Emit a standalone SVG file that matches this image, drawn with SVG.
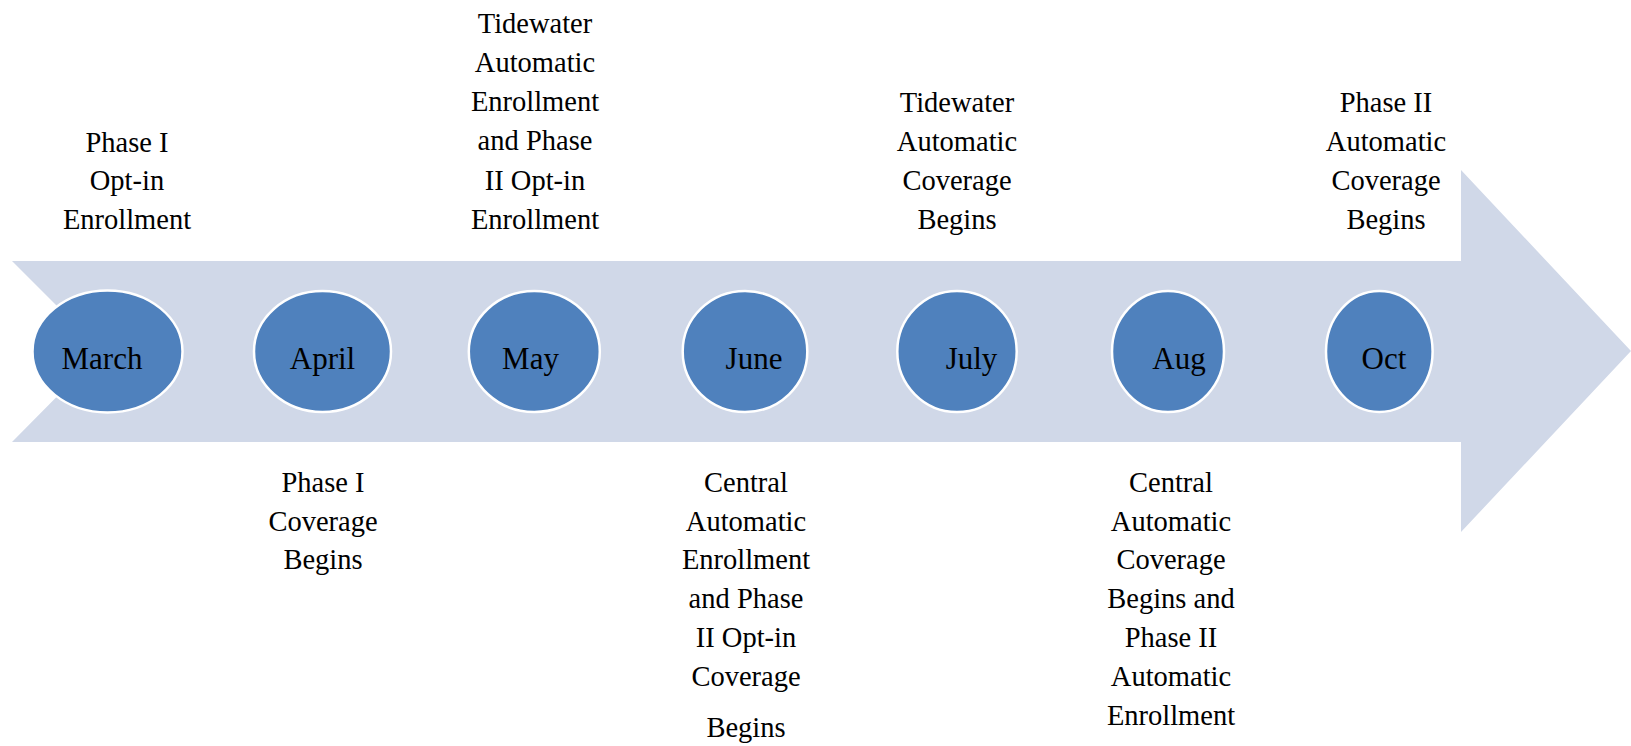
<svg xmlns="http://www.w3.org/2000/svg" width="1631" height="746" viewBox="0 0 1631 746">
<style>
.arrow{fill:#D0D8E8}
.node ellipse{fill:#4F81BD;stroke:#FFFFFF;stroke-width:2.5}
.m{font-family:"Liberation Serif","Times New Roman",serif;font-size:31px;fill:#000;text-anchor:middle}
.lbl{font-family:"Liberation Serif","Times New Roman",serif;font-size:28.5px;fill:#000;text-anchor:middle}
</style>
<rect width="1631" height="746" fill="#FFFFFF"/>
<g id="connectors">
<polygon class="arrow" points="12,261 1461,261 1461,170 1631,351 1461,532 1461,442 12,442 102,351"/>
</g>
<g id="march" class="node"><ellipse cx="107.5" cy="351.5" rx="75" ry="61"/><text class="m" x="102" y="369">March</text></g>
<g id="april" class="node"><ellipse cx="322.5" cy="351.5" rx="68.5" ry="60.5"/><text class="m" x="322.5" y="369">April</text></g>
<g id="may" class="node"><ellipse cx="534.3" cy="351.5" rx="65.5" ry="60.5"/><text class="m" x="530.5" y="369">May</text></g>
<g id="june" class="node"><ellipse cx="745" cy="351.5" rx="62.3" ry="60.5"/><text class="m" x="754" y="369">June</text></g>
<g id="july" class="node"><ellipse cx="957" cy="351.5" rx="59.7" ry="60.5"/><text class="m" x="971.5" y="369">July</text></g>
<g id="aug" class="node"><ellipse cx="1168" cy="351.5" rx="56" ry="60.5"/><text class="m" x="1179" y="369">Aug</text></g>
<g id="oct" class="node"><ellipse cx="1379.3" cy="351.5" rx="53.3" ry="60.5"/><text class="m" x="1384" y="369">Oct</text></g>
<g id="label-march">
<text class="lbl" x="127" y="152">Phase I</text>
<text class="lbl" x="127" y="190">Opt-in</text>
<text class="lbl" x="127" y="229">Enrollment</text>
</g>
<g id="label-may">
<text class="lbl" x="535" y="33">Tidewater</text>
<text class="lbl" x="535" y="72">Automatic</text>
<text class="lbl" x="535" y="111">Enrollment</text>
<text class="lbl" x="535" y="150">and Phase</text>
<text class="lbl" x="535" y="190">II Opt-in</text>
<text class="lbl" x="535" y="229">Enrollment</text>
</g>
<g id="label-july">
<text class="lbl" x="957" y="112">Tidewater</text>
<text class="lbl" x="957" y="151">Automatic</text>
<text class="lbl" x="957" y="190">Coverage</text>
<text class="lbl" x="957" y="229">Begins</text>
</g>
<g id="label-oct">
<text class="lbl" x="1386" y="112">Phase II</text>
<text class="lbl" x="1386" y="151">Automatic</text>
<text class="lbl" x="1386" y="190">Coverage</text>
<text class="lbl" x="1386" y="229">Begins</text>
</g>
<g id="label-april">
<text class="lbl" x="323" y="492">Phase I</text>
<text class="lbl" x="323" y="531">Coverage</text>
<text class="lbl" x="323" y="569">Begins</text>
</g>
<g id="label-june">
<text class="lbl" x="746" y="492">Central</text>
<text class="lbl" x="746" y="531">Automatic</text>
<text class="lbl" x="746" y="569">Enrollment</text>
<text class="lbl" x="746" y="608">and Phase</text>
<text class="lbl" x="746" y="647">II Opt-in</text>
<text class="lbl" x="746" y="686">Coverage</text>
<text class="lbl" x="746" y="737">Begins</text>
</g>
<g id="label-aug">
<text class="lbl" x="1171" y="492">Central</text>
<text class="lbl" x="1171" y="531">Automatic</text>
<text class="lbl" x="1171" y="569">Coverage</text>
<text class="lbl" x="1171" y="608">Begins and</text>
<text class="lbl" x="1171" y="647">Phase II</text>
<text class="lbl" x="1171" y="686">Automatic</text>
<text class="lbl" x="1171" y="725">Enrollment</text>
</g>
</svg>
